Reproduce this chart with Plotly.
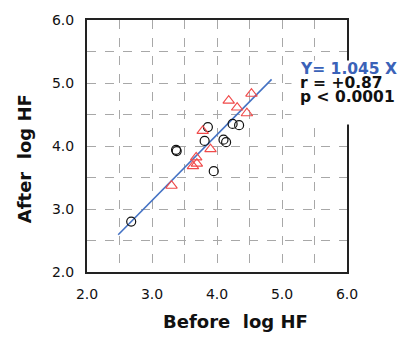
import plotly.graph_objects as go

circle_x = [2.68, 3.37, 3.38, 3.86, 3.81, 4.10, 4.14, 3.95, 4.24, 4.34]
circle_y = [2.80, 3.94, 3.92, 4.30, 4.08, 4.10, 4.06, 3.60, 4.35, 4.33]

tri_x = [3.30, 3.63, 3.69, 3.68, 3.78, 3.90, 4.18, 4.31, 4.46, 4.53]
tri_y = [3.37, 3.68, 3.72, 3.82, 4.24, 3.95, 4.72, 4.61, 4.52, 4.83]

slope = 1.045
line_x = [2.48, 4.84]
line_y = [slope * v for v in line_x]

grid_vals = [2.0, 2.5, 3.0, 3.5, 4.0, 4.5, 5.0, 5.5, 6.0]
tick_text = ["2.0", "", "3.0", "", "4.0", "", "5.0", "", "6.0"]

FONT = "DejaVu Sans, Liberation Sans, Arial"

fig = go.Figure()
fig.add_trace(go.Scatter(x=line_x, y=line_y, mode="lines",
                         line=dict(color="#4472c4", width=1.6), showlegend=False))
fig.add_trace(go.Scatter(x=circle_x, y=circle_y, mode="markers",
                         marker=dict(symbol="circle-open", size=9, color="#111111",
                                     line=dict(width=1.2)), showlegend=False))
fig.add_trace(go.Scatter(x=tri_x, y=tri_y, mode="markers",
                         marker=dict(symbol="triangle-up-open", size=10, color="#f04a4a",
                                     line=dict(width=1.1)), showlegend=False))

axis_common = dict(
    range=[2.0, 6.0], tickmode="array", tickvals=grid_vals, ticktext=tick_text,
    showgrid=True, gridcolor="#a8a8a8", griddash="dash", gridwidth=1,
    showline=True, linecolor="#222222", linewidth=2, mirror=True,
    zeroline=False, ticks="",
    tickfont=dict(family=FONT, size=14, color="#111111"),
)

fig.update_xaxes(**axis_common, ticklabelstandoff=8)
fig.update_yaxes(**axis_common, ticklabelstandoff=8)

bold = dict(family=FONT, size=15.5, color="#111111", weight="bold")
fig.update_layout(
    width=404, height=343,
    margin=dict(l=87, r=57, t=13, b=71),
    paper_bgcolor="white", plot_bgcolor="white",
    annotations=[
        dict(text=" ", xref="paper", yref="paper", x=1.004, y=0.712,
             xanchor="center", yanchor="middle", showarrow=False,
             width=111, height=61, bgcolor="white"),
        dict(text="Y= 1.045 X", xref="paper", yref="paper", x=0.81, y=0.805,
             xanchor="left", yanchor="middle", showarrow=False,
             font=dict(family=FONT, size=15.5, color="#3a62b8", weight="bold")),
        dict(text="r = +0.87", xref="paper", yref="paper", x=0.81, y=0.749,
             xanchor="left", yanchor="middle", showarrow=False, font=bold),
        dict(text="p < 0.0001", xref="paper", yref="paper", x=0.81, y=0.693,
             xanchor="left", yanchor="middle", showarrow=False, font=bold),
        dict(text="Before \u00a0log HF", xref="paper", yref="paper", x=0.57, y=-0.195,
             xanchor="center", yanchor="middle", showarrow=False,
             font=dict(family=FONT, size=18, color="#111111", weight="bold")),
        dict(text="After \u00a0log HF", xref="paper", yref="paper", x=-0.24, y=0.45,
             xanchor="center", yanchor="middle", showarrow=False, textangle=-90,
             font=dict(family=FONT, size=18, color="#111111", weight="bold")),
    ],
)

fig.write_html("out.html")
